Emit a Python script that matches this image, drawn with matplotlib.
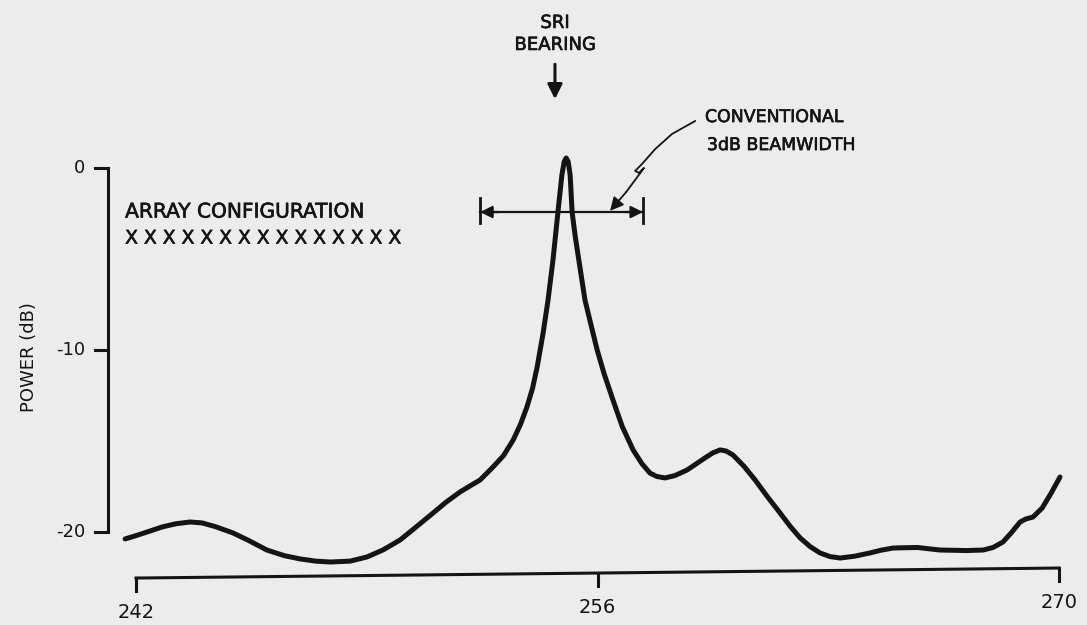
import numpy as np
import matplotlib.pyplot as plt
import matplotlib.patheffects as pe

# beam pattern (bearing in degrees, power in dB)
bearing = [241.67, 242.0, 242.42, 242.8, 243.2, 243.64, 244.0, 244.4, 244.94, 245.4,
           245.97, 246.5, 246.98, 247.45, 247.89, 248.5, 249.01, 249.5, 250.01, 250.5,
           251.01, 251.4, 251.83, 252.15, 252.44, 252.83, 253.15, 253.44, 253.66, 253.86,
           254.03, 254.17, 254.35, 254.5, 254.65, 254.8, 254.92, 254.99, 255.05, 255.11,
           255.17, 255.23, 255.32, 255.41, 255.62, 255.8, 255.99, 256.2, 256.47, 256.75,
           257.08, 257.35, 257.59, 257.8, 258.05, 258.35, 258.72, 259.0, 259.26, 259.5,
           259.72, 259.9, 260.11, 260.45, 260.78, 261.15, 261.54, 261.85, 262.15, 262.45,
           262.75, 263.05, 263.36, 263.8, 264.27, 264.6, 264.97, 265.7, 266.39, 267.2,
           267.7, 268.0, 268.3, 268.55, 268.82, 269.0, 269.21, 269.49, 269.75, 270.03]
power_db = [-20.38, -20.2, -19.95, -19.72, -19.55, -19.45, -19.5, -19.7, -20.05, -20.45,
            -20.99, -21.3, -21.48, -21.6, -21.65, -21.6, -21.37, -20.98, -20.44, -19.72,
            -18.96, -18.37, -17.8, -17.45, -17.14, -16.43, -15.8, -14.95, -14.1, -13.13,
            -12.1, -10.93, -9.07, -7.25, -5.05, -2.42, -0.38, 0.35, 0.55, 0.35,
            -0.38, -2.42, -3.7, -4.78, -7.25, -8.6, -10.0, -11.3, -12.75, -14.2,
            -15.49, -16.25, -16.76, -16.95, -17.03, -16.9, -16.59, -16.25, -15.93, -15.65,
            -15.49, -15.55, -15.77, -16.4, -17.14, -18.05, -18.96, -19.7, -20.33, -20.8,
            -21.15, -21.35, -21.43, -21.33, -21.15, -21.0, -20.88, -20.85, -20.99, -21.02,
            -20.99, -20.85, -20.55, -20.05, -19.45, -19.28, -19.18, -18.68, -17.9, -16.98]

y_ticks = [0, -10, -20]
y_labels = ['0', '-10', '-20']
x_ticks = [242, 256, 270]
x_labels = ['242', '256', '270']

# 3 dB beamwidth marker and SRI bearing
beam_left, beam_right, beam_level = 252.44, 257.38, -2.42
sri_bearing = 254.71

plt.rcParams['font.family'] = ['DejaVu Sans']
ink = '#141414'
paper = '#ececec'
heavy = [pe.withStroke(linewidth=0.45, foreground=ink)]

fig = plt.figure(figsize=(10.87, 6.25), dpi=100, facecolor=paper)
ax = fig.add_axes([136 / 1087, (625 - 577.5) / 625, 923 / 1087, 427.7 / 625])
ax.set_xlim(242, 270)
ax.set_ylim(-22.5, 1.0)
ax.axis('off')

ax.plot(bearing, power_db, color=ink, lw=3.6, solid_joinstyle='round',
        solid_capstyle='round', clip_on=False)

# hand drawn y axis
yax_x = 241.15
ax.plot([yax_x, yax_x], [y_ticks[0], y_ticks[-1]], color=ink, lw=2.2,
        solid_capstyle='projecting', clip_on=False)
for t, lab in zip(y_ticks, y_labels):
    ax.plot([yax_x - 0.4, yax_x], [t, t], color=ink, lw=2.2, clip_on=False)
    ax.text(yax_x - 0.7, t, lab, ha='right', va='center', fontsize=13, color=ink)
ax.text(238.75, -10.4, 'POWER (dB)', rotation=90, ha='center', va='center',
        fontsize=13, color=ink)

# hand drawn x axis (slightly tilted in the scan)
def xaxis_y(x):
    return np.interp(x, [242, 270], [-22.53, -21.98])

ax.plot([x_ticks[0], x_ticks[-1]], [xaxis_y(x_ticks[0]), xaxis_y(x_ticks[-1])],
        color=ink, lw=2.2, clip_on=False)
for t, lab in zip(x_ticks, x_labels):
    y0 = xaxis_y(t)
    ax.plot([t, t], [y0, y0 - 0.7], color=ink, lw=2.2, clip_on=False)
    ax.text(t, y0 - 1.9, lab, ha='center', va='center', fontsize=14, color=ink)

# SRI bearing arrow
ax.annotate('', xy=(sri_bearing, 3.63), xytext=(sri_bearing, 5.85),
            arrowprops=dict(arrowstyle='-|>', lw=2.2, color=ink, mutation_scale=22),
            annotation_clip=False)
ax.text(sri_bearing, 7.97, 'SRI', ha='center', va='center', fontsize=13,
        color=ink, path_effects=heavy)
ax.text(sri_bearing, 6.76, 'BEARING', ha='center', va='center', fontsize=13,
        color=ink, path_effects=heavy)

# conventional beamwidth bar
ax.plot([beam_left, beam_right], [beam_level, beam_level], color=ink, lw=1.6,
        clip_on=False)
for xb, xs in [(beam_left, beam_left + 0.55), (beam_right, beam_right - 0.55)]:
    ax.plot([xb, xb], [beam_level + 0.75, beam_level - 0.6], color=ink, lw=2.0,
            clip_on=False)
    ax.annotate('', xy=(xb, beam_level), xytext=(xs, beam_level),
                arrowprops=dict(arrowstyle='-|>', lw=1.6, color=ink,
                                mutation_scale=18, shrinkA=0, shrinkB=0),
                annotation_clip=False)

# squiggly leader to the beamwidth label
lead_x = [258.96, 258.26, 257.75, 257.35, 257.14, 257.26, 257.41, 256.87]
lead_y = [2.58, 1.87, 1.04, 0.22, -0.16, -0.27, 0.0, -1.32]
ax.plot(lead_x, lead_y, color=ink, lw=1.3, clip_on=False)
ax.annotate('', xy=(256.38, -2.36), xytext=(lead_x[-1], lead_y[-1]),
            arrowprops=dict(arrowstyle='-|>', lw=1.3, color=ink,
                            mutation_scale=20, shrinkA=0, shrinkB=0),
            annotation_clip=False)
ax.text(259.26, 2.80, 'CONVENTIONAL', ha='left', va='center', fontsize=12.5,
        color=ink, path_effects=heavy)
ax.text(259.32, 1.26, '3dB BEAMWIDTH', ha='left', va='center', fontsize=12.5,
        color=ink, path_effects=heavy)

ax.text(241.67, -2.42, 'ARRAY CONFIGURATION', ha='left', va='center',
        fontsize=14.5, color=ink, path_effects=heavy)
ax.text(241.67, -3.85, ' '.join(['X'] * 15), ha='left', va='center',
        fontsize=13.5, color=ink, path_effects=heavy)

fig.savefig('out.png', dpi=100, facecolor=paper)
